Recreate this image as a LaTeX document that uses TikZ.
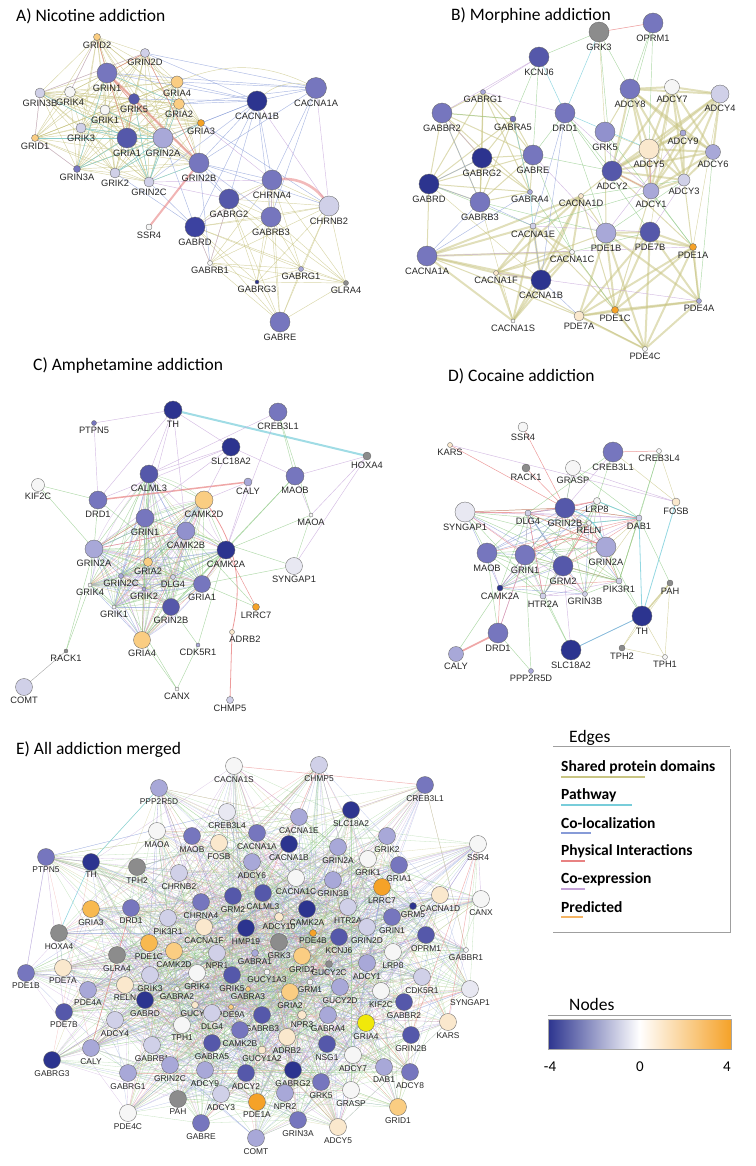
\documentclass[tikz,border=0pt]{standalone}
\usepackage{fontspec}
\setmainfont{Liberation Sans}
\newfontfamily\titlef{Carlito}
\definecolor{nb4}{RGB}{44,52,143}
\definecolor{nb35}{RGB}{60,66,160}
\definecolor{nb3}{RGB}{85,88,170}
\definecolor{nb2}{RGB}{118,118,190}
\definecolor{nb15}{RGB}{145,145,205}
\definecolor{nb1}{RGB}{168,168,216}
\definecolor{nb05}{RGB}{208,208,232}
\definecolor{nw2}{RGB}{232,232,242}
\definecolor{nw}{RGB}{246,246,246}
\definecolor{no1}{RGB}{250,232,205}
\definecolor{no2}{RGB}{250,205,130}
\definecolor{no25}{RGB}{248,185,80}
\definecolor{no3}{RGB}{245,162,40}
\definecolor{ngray}{RGB}{140,140,140}
\definecolor{nyel}{RGB}{240,232,10}
\definecolor{cspd}{RGB}{200,196,130}
\definecolor{cpw}{RGB}{120,205,218}
\definecolor{cco}{RGB}{135,155,215}
\definecolor{cph}{RGB}{232,130,130}
\definecolor{cex}{RGB}{195,160,215}
\definecolor{cpr}{RGB}{245,180,100}
\definecolor{cgi}{RGB}{140,200,130}
\pgfdeclarelayer{edgelayer}
\pgfsetlayers{edgelayer,main}
\begin{document}
\begin{tikzpicture}[x=1pt,y=-1pt,
  gn/.style={circle,draw=black!60,line width=0.35pt,inner sep=0pt},
  gl/.style={font=\fontsize{9.3}{10}\selectfont,inner sep=0.6pt,text=black!85},
  el/.style={font=\fontsize{8.4}{9}\selectfont,inner sep=0.5pt,text=black!85},
  ttl/.style={font=\fontsize{17.5}{19}\titlef,inner sep=0pt,anchor=west},
  kspd/.style={draw=cspd,line width=0.45pt,opacity=0.7},
  kspdm/.style={draw=cspd,line width=1pt,opacity=0.6},
  kspdT/.style={draw=cspd,line width=2pt,opacity=0.55},
  kpw/.style={draw=cpw,line width=0.5pt,opacity=0.8},
  kco/.style={draw=cco,line width=0.45pt,opacity=0.7},
  kph/.style={draw=cph,line width=0.5pt,opacity=0.8},
  kex/.style={draw=cex,line width=0.45pt,opacity=0.7},
  kgi/.style={draw=cgi,line width=0.45pt,opacity=0.7},
  er1/.style={draw=cgi,line width=0.3pt,opacity=0.5},
  er2/.style={draw=cgi,line width=0.3pt,opacity=0.5},
  er3/.style={draw=cgi,line width=0.3pt,opacity=0.5},
  er4/.style={draw=cgi,line width=0.3pt,opacity=0.5},
  er5/.style={draw=cex,line width=0.3pt,opacity=0.55},
  er6/.style={draw=cex,line width=0.3pt,opacity=0.55},
  er7/.style={draw=cco,line width=0.3pt,opacity=0.5},
  er8/.style={draw=cco,line width=0.3pt,opacity=0.5},
  er9/.style={draw=cspd,line width=0.3pt,opacity=0.55},
  er10/.style={draw=cph,line width=0.3pt,opacity=0.45},
  er11/.style={draw=none},
  er12/.style={draw=none},
  lgt/.style={font=\fontsize{15.5}{17}\titlef\bfseries,inner sep=0pt,anchor=west},
]
\useasboundingbox (0,0) rectangle (755,1166);

% ---------------- titles
\node[ttl] (tA) at (16,16) {A) Nicotine addiction};
\node[ttl] (tB) at (451,16) {B) Morphine addiction};
\node[ttl] (tC) at (33,366) {C) Amphetamine addiction};
\node[ttl] (tD) at (448,376) {D) Cocaine addiction};
\node[ttl] (tE) at (16,750) {E) All addiction merged};

% ---------------- A nodes
\foreach \t/\x/\y/\s/\c in {GRID2/97/37/7/no2, GRIN2D/145/53/9/nb05, GRIN1/107/73/20/nb2, GRIA4/177/82/12/no2,
 CACNA1B/257/101/20/nb4, CACNA1A/316/88/21/nb2, GRIN3B/40/93/10/nb05, GRIK4/70/92/11/nw, GRIK5/134/99/11/nb3,
 GRIA2/179/104/11/no2, GRIK1/105/110/10/nw, GRIA3/201/123/7/no3, GRIK3/81/128/10/nb05, GRID1/35/138/7/no2,
 GRIA1/127/138/20/nb3, GRIN2A/163/138/20/nb1, GRIN2B/199/163/20/nb2, GRIN3A/77/169/7/nb2, GRIK2/115/173/10/nb05,
 GRIN2C/149/182/10/nb05, CHRNA4/272/180/20/nb2, CHRNB2/329/206/20/nb05, GABRG2/229/199/20/nb3, GABRB3/271/217/20/nb2,
 SSR4/149/227/6/nw, GABRD/195/227/20/nb35, GABRB1/210/263/5/nw, GABRG1/301/269/5/nb1, GABRG3/257/282/4/nb4,
 GLRA4/346/283/5/ngray, GABRE/280/322/20/nb2}
 {\node[gn,minimum size=\s*1pt,fill=\c,label={[gl,label distance=1pt]below:\t}] (a-\t) at (\x,\y) {};}

% ---------------- B nodes
\foreach \t/\x/\y/\s/\c in {GRK3/599/32/20/ngray, OPRM1/653/23/20/nb2, KCNJ6/539/57/20/nb3, ADCY8/630/89/20/nb2,
 ADCY7/672/87/15/nw, ADCY4/720/94/18/nb05, GABRG1/483/92/5/nb1, GABBR2/442/113/20/nb2, GABRA5/513/119/6/nb2,
 DRD1/565/113/20/nb2, GRK5/605/132/20/nb15, ADCY9/683/133/6/nb1, ADCY5/649/149/20/no1, ADCY6/713/152/15/nb1,
 GABRG2/482/158/20/nb4, GABRE/533/155/20/nb2, ADCY2/612/171/20/nb3, ADCY3/684/180/12/nb05, ADCY1/651/191/16/nb1,
 GABRD/429/184/20/nb4, GABRB3/480/202/20/nb2, GABRA4/530/192/5/nb1, CACNA1D/581/196/5/no1, CACNA1E/533/226/6/nb05,
 PDE1B/606/233/20/nb1, PDE7B/650/232/20/nb3, PDE1A/693/247/7/no3, CACNA1C/572/252/5/nw, CACNA1A/427/256/20/nb2,
 CACNA1F/496/273/5/no1, CACNA1B/541/280/20/nb4, PDE4A/699/301/5/nb1, PDE1C/615/310/7/no3, PDE7A/579/316/10/no1,
 CACNA1S/513/321/4/nw, PDE4C/645/349/5/nw}
 {\node[gn,minimum size=\s*1pt,fill=\c,label={[gl,label distance=1pt]below:\t}] (b-\t) at (\x,\y) {};}

% ---------------- C nodes
\foreach \t/\x/\y/\s/\c in {TH/173/410/18/nb4, CREB3L1/278/412/18/nb2, PTPN5/94/423/5/nb2, SLC18A2/231/447/18/nb4,
 HOXA4/367/456/8/ngray, KIF2C/38/485/13/nw, CALML3/149/474/18/nb3, CALY/248/482/8/nb1, MAOB/295/476/18/nb2,
 DRD1/98/500/18/nb2, CAMK2D/204/500/18/no2, MAOA/311/515/4/nw, GRIN1/145/518/18/nb2, CAMK2B/186/531/18/nb15,
 CAMK2A/226/550/18/nb4, GRIN2A/94/549/18/nb1, SYNGAP1/294/566/17/nw2, GRIA2/148/562/9/no2, GRIN2C/121/576/5/nb1,
 DLG4/173/577/5/nb05, GRIA1/202/584/17/nb2, GRIK4/90/585/4/nw, GRIK2/144/589/4/nb1, GRIN2B/171/607/17/nb3,
 LRRC7/256/607/7/no3, GRIK1/114/607/4/nw, RACK1/66/651/4/ngray, GRIA4/142/640/17/no2, CDK5R1/198/645/4/nb1,
 CANX/177/689/4/nw, CHMP5/230/700/7/nb05, COMT/24/687/17/nb05}
 {\node[gn,minimum size=\s*1pt,fill=\c,label={[gl,label distance=1pt]below:\t}] (c-\t) at (\x,\y) {};}
\node[gn,minimum size=5pt,fill=no1,label={[gl,label distance=1pt,xshift=13pt]below:ADRB2}] (c-ADRB2) at (232,632) {};

% ---------------- D nodes
\foreach \t/\x/\y/\s/\c in {SSR4/523/427/10/nw, KARS/450/445/5/no1, CREB3L1/613/452/20/nb2, CREB3L4/659/451/5/nw,
 RACK1/526/468/8/ngray, GRASP/573/468/15/nw, SYNGAP1/465/512/20/nw2, DLG4/528/513/6/nb05, GRIN2B/565/508/20/nb3,
 LRP8/597/501/7/nw, RELN/589/523/5/nw, DAB1/639/518/6/nb05, FOSB/676/502/8/no1, MAOB/487/553/20/nb2,
 GRIN1/525/555/20/nb2, GRM2/563/566/20/nb3, GRIN2A/606/547/20/nb1, PIK3R1/619/581/6/nb05, PAH/670/583/6/ngray,
 CAMK2A/500/588/6/nb4, HTR2A/543/596/6/nb05, GRIN3B/585/594/5/nb05, TH/642/616/20/nb4, DRD1/498/633/20/nb2,
 CALY/456/654/15/nb1, SLC18A2/571/650/20/nb4, TPH2/622/648/6/ngray, TPH1/665/657/5/nw, PPP2R5D/531/671/5/nb1}
 {\node[gn,minimum size=\s*1pt,fill=\c,label={[gl,label distance=1pt]below:\t}] (d-\t) at (\x,\y) {};}

% ---------------- E nodes
\foreach \t/\x/\y/\s/\c [count=\i] in {CACNA1S/234/766/17/nw, CHMP5/319/765/17/nb05, PPP2R5D/159/788/17/nb1,
 CREB3L1/425/785/17/nb2, CREB3L4/227/812/17/nw2, SLC18A2/351/810/17/nb4, CACNA1E/299/817/17/nb1, MAOA/157/831/17/nw,
 MAOB/192/836/17/nb2, FOSB/219/843/17/no1, CACNA1A/257/833/17/nb2, CACNA1B/289/844/17/nb4, GRIN2A/338/847/17/nb1,
 GRIK2/387/836/17/nb1, SSR4/478/844/17/nw, PTPN5/46/857/17/nb2, TH/91/862/17/nb4, TPH2/137/867/17/ngray,
 CHRNB2/179/873/17/nb05, ADCY6/252/862/17/nb1, GRIK1/368/859/17/nw, GRIA1/399/865/17/nb2, CACNA1C/296/878/17/nw,
 GRIN3B/333/880/17/nb1, LRRC7/382/887/17/no3, CACNA1D/440/895/17/no1, CANX/481/899/17/nw, DRD1/131/908/17/nb2,
 GRIA3/91/909/17/no25, CHRNA4/201/902/17/nb2, GRM2/233/896/17/nb3, CALML3/263/893/17/nb3, CAMK2A/307/909/17/nb4,
 ADCY10/279/917/9/no1, HTR2A/348/907/17/nb05, GRM5/413/906/7/nb4, GRIN1/392/917/17/nb2, HOXA4/59/933/17/ngray,
 PIK3R1/168/918/17/nb05, CACNA1F/204/927/17/no1, HMP19/246/928/17/nb4, PDE4B/313/933/7/no3, KCNJ6/339/937/17/nb3,
 GRIN2D/367/927/17/nb05, OPRM1/426/935/17/nb3, GABBR1/466/950/5/nw, PDE1C/149/943/17/no25, CAMK2D/174/951/17/no2,
 GLRA4/117/955/17/ngray, NPR1/217/953/17/nb05, GABRA1/255/953/7/nb1, GRK3/279/942/17/ngray, GRID2/302/956/17/no2,
 GUCY2C/329/964/7/ngray, LRP8/393/952/17/nw, ADCY1/367/963/17/nb1, PDE1B/26/973/17/nb2, PDE7A/63/968/17/no1,
 GRIK3/150/975/17/nb05, GRIK4/197/973/17/nw, GABRA2/177/989/5/nw, GRIK5/232/975/17/nb3, GUCY1A3/267/972/6/nw,
 GABRA3/248/989/5/no2, GRM1/310/982/6/nw, GRIA2/290/992/17/no2, CDK5R1/422/977/17/nb05, GUCY2D/340/987/17/nb1,
 KIF2C/381/991/17/nw, SYNGAP1/470/989/17/nw2, PDE4A/88/990/17/nb1, RELN/125/985/17/no1, GABRD/145/1000/17/nb4,
 GUCY1/195/1005/7/no1, PDE9A/231/1007/5/no2, GABBR2/404/1002/17/nb3, PDE7B/64/1012/17/nb3, ADCY4/115/1020/17/nb05,
 TPH1/182/1025/17/nw, DLG4/212/1013/17/nb05, GABRB3/262/1015/17/nb3, NPR3/302/1015/9/no1, GABRA4/328/1015/17/nb1,
 GRIA4/366/1023/17/nyel, KARS/448/1022/17/no1, GRIN2B/411/1035/17/nb3, CAMK2B/240/1030/17/nb2, GABRA5/212/1043/17/nb3,
 GABRB1/152/1045/17/nb05, ADRB2/287/1037/17/no1, GUCY1A2/262/1050/8/no1, NSG1/327/1044/17/nb3, CALY/91/1048/17/nb1,
 GABRG3/52/1060/17/nb4, ADCY7/353/1055/17/nw, GRIN2C/170/1065/17/nb1, ADCY9/205/1070/17/nb1, ADCY2/246/1073/17/nb3,
 GABRG2/293/1070/17/nb4, DAB1/384/1067/17/nb1, ADCY8/410/1072/17/nb2, GABRG1/128/1073/17/nb1, GRK5/321/1082/17/nb2,
 NPR2/285/1093/17/nb1, GRASP/351/1090/17/nw, ADCY3/221/1094/17/nb05, PDE1A/257/1102/17/no3, PAH/178/1099/17/ngray,
 GRID1/398/1107/17/no2, PDE4C/128/1113/17/nw, GABRE/201/1123/17/nb2, GRIN3A/298/1120/17/nb2, ADCY5/338/1127/17/no1,
 COMT/256/1138/17/nb1}
 {\node[gn,minimum size=\s*1pt,fill=\c,alias=e-\t,label={[el,label distance=0.8pt]below:\t}] (e\i) at (\x,\y) {};
  \xdef\NE{\i}}

% ================= EDGES =================
\begin{pgfonlayer}{edgelayer}
% ---- A
\foreach \u [count=\i] in {GRID2,GRIN2D,GRIN1,GRIA4,GRIN3B,GRIK4,GRIK5,GRIA2,GRIK1,GRIA3,GRIK3,GRID1,GRIA1,GRIN2A,GRIN2B,GRIN3A,GRIK2,GRIN2C}
 {\foreach \v [count=\j] in {GRID2,GRIN2D,GRIN1,GRIA4,GRIN3B,GRIK4,GRIK5,GRIA2,GRIK1,GRIA3,GRIK3,GRID1,GRIA1,GRIN2A,GRIN2B,GRIN3A,GRIK2,GRIN2C}
  {\ifnum\j>\i \draw[kspd] (a-\u.center) -- (a-\v.center);\fi}}
\foreach \u [count=\i] in {GABRG2,GABRB3,GABRD,GABRB1,GABRG1,GABRG3,GLRA4,GABRE,CHRNA4,CHRNB2}
 {\foreach \v [count=\j] in {GABRG2,GABRB3,GABRD,GABRB1,GABRG1,GABRG3,GLRA4,GABRE,CHRNA4,CHRNB2}
  {\ifnum\j>\i \draw[kspd] (a-\u.center) -- (a-\v.center);\fi}}
\foreach \a/\b in {GRIA1/GRIK3,GRIA1/GRIN3A,GRIN2A/GRIK2,GRIN2A/GRIN3A,GRIN2A/GRIN2C,GRIN1/GRIA2,GRIA4/GRIN2A,GRIN2A/GRIK1,
 GRIN1/GRIN3A,GRIA2/GRIN2C,GRIK5/GRIN2C,GRIA1/GRIN2C,GRIN2B/GRIN2C,GRIK2/GRIA3,GRIK3/GRIN2A,GRIN3B/GRIA1,GRID1/GRIN2A}
 {\draw[kpw] (a-\a.center) -- (a-\b.center);}
\foreach \a/\b in {CACNA1B/GRIN2D,CACNA1B/GRIN1,CACNA1B/GRIA4,CACNA1B/GRIA2,CACNA1B/GRIA3,CACNA1B/GRIN2A,CACNA1B/GRIN2B,
 CACNA1B/GRIN2C,CACNA1B/GRIK5,CACNA1B/CHRNA4,CACNA1B/GABRG2,CACNA1B/GABRB3,CACNA1B/GABRD,CACNA1A/GRIA4,CACNA1A/GRIN2D,
 CACNA1A/CACNA1B,CACNA1A/GRIN2B,CACNA1A/GABRB3,CACNA1A/CHRNA4,GRIN2B/CHRNA4,GRIN2B/GABRB3,GRIN2B/GABRG2,GRIN2A/GABRD,
 GRIN2C/GABRD,GRIN2B/CHRNB2,GRIA3/CHRNB2,GRIK2/GABRD,GRIN2A/GABRG2,GRIN2B/GABRB1,GRIA2/CACNA1A,GRIN1/CACNA1A}
 {\draw[kco] (a-\a.center) -- (a-\b.center);}
\foreach \a/\b in {CACNA1A/CHRNB2,GRIN3B/GRID1,GRIN2D/GRIN3B,GRID2/GRIK4,GRIN3A/GRID1,CHRNA4/GABRB3,GABRD/GABRB1,
 CHRNA4/GABRD,GRIN2C/CHRNA4,CACNA1B/CHRNB2,GABRG2/GABRB1,GRIN2C/GABRG2,GRIA3/CHRNA4}
 {\draw[kex] (a-\a.center) -- (a-\b.center);}
\foreach \a/\b in {GRID2/GRIN1,GRIN1/GRIN2A,GRIN1/GRIA1,GRIN2D/GRIN1,GRIN2D/GRIN2B,GRIK5/GRIA1}
 {\draw[kph] (a-\a.center) -- (a-\b.center);}
\draw[kph,line width=2.5pt,opacity=0.55] (a-GRIN1.center) -- (a-GRIN2B.center);
\draw[kph,line width=2pt,opacity=0.6] (a-SSR4.center) -- (a-GRIN2B.center);
\draw[kph,line width=2.6pt,opacity=0.55] (a-CHRNA4.center) to[bend left=35] (a-CHRNB2.center);
\draw[kspd] (a-CACNA1B.center) to[bend left=35] (a-CACNA1A.center);
\draw[kspd] (a-GRIA4.center) to[bend left=25] (a-CACNA1A.center);

% ---- B
\foreach \u [count=\i] in {ADCY8,ADCY7,ADCY4,ADCY9,ADCY5,ADCY6,ADCY2,ADCY3,ADCY1}
 {\foreach \v [count=\j] in {ADCY8,ADCY7,ADCY4,ADCY9,ADCY5,ADCY6,ADCY2,ADCY3,ADCY1}
  {\ifnum\j>\i \draw[kspdT] (b-\u.center) -- (b-\v.center);\fi}}
\foreach \u [count=\i] in {PDE1B,PDE7B,PDE1A,PDE4A,PDE1C,PDE7A,PDE4C}
 {\foreach \v [count=\j] in {PDE1B,PDE7B,PDE1A,PDE4A,PDE1C,PDE7A,PDE4C}
  {\ifnum\j>\i \draw[kspdT] (b-\u.center) -- (b-\v.center);\fi}}
\foreach \u [count=\i] in {CACNA1D,CACNA1E,CACNA1C,CACNA1A,CACNA1F,CACNA1B,CACNA1S}
 {\foreach \v [count=\j] in {CACNA1D,CACNA1E,CACNA1C,CACNA1A,CACNA1F,CACNA1B,CACNA1S}
  {\ifnum\j>\i \draw[kspdT] (b-\u.center) -- (b-\v.center);\fi}}
\foreach \u [count=\i] in {GABRG1,GABRA5,GABRG2,GABRE,GABRD,GABRB3,GABRA4,GABBR2}
 {\foreach \v [count=\j] in {GABRG1,GABRA5,GABRG2,GABRE,GABRD,GABRB3,GABRA4,GABBR2}
  {\ifnum\j>\i \draw[kspdm] (b-\u.center) -- (b-\v.center);\fi}}
\foreach \a/\b in {CACNA1D/ADCY2,CACNA1D/PDE1B,CACNA1F/PDE1B,CACNA1E/PDE1C,CACNA1A/PDE7A,GRK5/ADCY8,GRK5/PDE1B,
 CACNA1D/PDE1C,CACNA1C/PDE4C,ADCY2/PDE1A,ADCY1/PDE1C,ADCY3/PDE4A,CACNA1F/PDE4C,GABRD/CACNA1A}
 {\draw[kspdm] (b-\a.center) -- (b-\b.center);}
\foreach \a/\b in {GRK3/GRK5,GABRD/CACNA1B,GABRB3/CACNA1S,GRK5/ADCY5,ADCY7/PDE7B,ADCY4/PDE1A}
 {\draw[kspd] (b-\a.center) -- (b-\b.center);}
\foreach \a/\b in {GRK3/DRD1,KCNJ6/DRD1,GABRA5/GABRA4,GABRA4/CACNA1E,DRD1/ADCY5}
 {\draw[kpw] (b-\a.center) -- (b-\b.center);}
\foreach \a/\b in {GRK3/OPRM1,ADCY2/ADCY1,ADCY5/ADCY1}
 {\draw[kph] (b-\a.center) -- (b-\b.center);}
\foreach \a/\b in {GRK3/KCNJ6,GRK3/ADCY8,OPRM1/ADCY5,OPRM1/ADCY2,KCNJ6/GABRA5,GABBR2/GABRA5,DRD1/PDE1B,DRD1/GABRE,
 GABRE/ADCY2,ADCY1/PDE1A,PDE1B/ADCY3,GRK5/PDE1A,GABRD/CACNA1E,CACNA1C/PDE7B,ADCY6/PDE4A,GABRA4/PDE1C,DRD1/ADCY2,
 GABRE/CACNA1C,OPRM1/ADCY8,KCNJ6/GABRE,CACNA1E/ADCY1,GRK3/ADCY2,DRD1/PDE7B,CACNA1D/ADCY3,GABRB3/PDE1B}
 {\draw[kgi] (b-\a.center) -- (b-\b.center);}
\foreach \a/\b in {KCNJ6/GABRG1,DRD1/ADCY1,GABBR2/GABRG2,CACNA1A/PDE1A,GABRE/PDE1B,ADCY3/PDE7B,CACNA1F/PDE4A,
 GABRG1/DRD1,KCNJ6/GABBR2,CACNA1E/PDE7B,PDE1B/ADCY9}
 {\draw[kex] (b-\a.center) -- (b-\b.center);}
\foreach \a/\b in {GABRD/GABRB3,GABRD/GABRG2,CACNA1A/GABRB3,DRD1/CACNA1B,CACNA1E/CACNA1B,GABBR2/GABRB3,GABRB3/CACNA1E,
 CACNA1B/PDE7A,CACNA1A/GABRA4,DRD1/CACNA1E}
 {\draw[kco] (b-\a.center) -- (b-\b.center);}

% ---- C
\pgfmathsetseed{11}
\foreach \u [count=\i] in {GRIN1,CAMK2B,CAMK2A,GRIN2A,GRIA2,GRIN2C,DLG4,GRIA1,GRIK4,GRIK2,GRIN2B,GRIK1,CALML3,CAMK2D,GRIA4}
 {\foreach \v [count=\j] in {GRIN1,CAMK2B,CAMK2A,GRIN2A,GRIA2,GRIN2C,DLG4,GRIA1,GRIK4,GRIK2,GRIN2B,GRIK1,CALML3,CAMK2D,GRIA4}
  {\ifnum\j>\i \pgfmathrandominteger{\rc}{1}{10}\draw[er\rc,opacity=0.65,line width=0.45pt] (c-\u.center) -- (c-\v.center);
   \pgfmathrandominteger{\rc}{1}{10}\draw[er\rc,opacity=0.55,line width=0.4pt] (c-\u.center) to[bend left=12] (c-\v.center);\fi}}
\draw[kpw,line width=2pt,opacity=0.7] (c-TH.center) -- (c-HOXA4.center);
\draw[kph,line width=1.5pt,opacity=0.7] (c-DRD1.center) -- (c-CALY.center);
\draw[kph,line width=0.8pt] (c-CAMK2D.center) to[bend left=25] (c-ADRB2.center);
\draw[kph,line width=0.8pt] (c-ADRB2.center) -- (c-CHMP5.center);
\foreach \a/\b in {CAMK2A/LRRC7,GRIN2A/CAMK2B,GRIN2A/GRIN1,CAMK2A/GRIA1}
 {\draw[kph] (c-\a.center) -- (c-\b.center);}
\foreach \a/\b in {PTPN5/TH,PTPN5/DRD1,TH/DRD1,TH/CALML3,TH/GRIN1,TH/SLC18A2,SLC18A2/CALML3,SLC18A2/GRIN2A,SLC18A2/MAOB,
 SLC18A2/CAMK2D,CREB3L1/CALML3,CREB3L1/CAMK2A,HOXA4/MAOA,HOXA4/SYNGAP1,HOXA4/MAOB,CALY/CAMK2D,CALY/CAMK2A,MAOB/MAOA,
 TH/CAMK2B,SLC18A2/DRD1}
 {\draw[kex] (c-\a.center) -- (c-\b.center);}
\foreach \a/\b in {CREB3L1/MAOB,CREB3L1/MAOA,KIF2C/DRD1,KIF2C/GRIN2A,RACK1/GRIN2A,RACK1/GRIK4,GRIA4/CANX,CDK5R1/CANX,
 CDK5R1/CAMK2A,MAOA/SYNGAP1,MAOA/CAMK2A,SYNGAP1/GRIA1,SYNGAP1/CAMK2B,LRRC7/GRIA1,LRRC7/CAMK2B,CALML3/GRIN1,DRD1/GRIN2A,
 MAOB/CAMK2A,GRIA4/GRIN2B,CDK5R1/GRIN2B,CANX/GRIN2A,MAOB/GRIN2B,DRD1/GRIA1,CAMK2D/GRIN2A}
 {\draw[kgi] (c-\a.center) -- (c-\b.center);}
\draw[draw=black!35,line width=0.4pt] (c-RACK1.center) -- (c-COMT.center);

% ---- D
\pgfmathsetseed{5}
\foreach \u [count=\i] in {GRIN2B,DLG4,LRP8,RELN,GRIN2A,GRIN1,GRM2,DAB1,HTR2A,GRIN3B,CAMK2A,PIK3R1,MAOB,SYNGAP1}
 {\foreach \v [count=\j] in {GRIN2B,DLG4,LRP8,RELN,GRIN2A,GRIN1,GRM2,DAB1,HTR2A,GRIN3B,CAMK2A,PIK3R1,MAOB,SYNGAP1}
  {\ifnum\j>\i \pgfmathrandominteger{\rc}{1}{12}\draw[er\rc,opacity=0.7,line width=0.45pt] (d-\u.center) -- (d-\v.center);\fi}}
\foreach \a/\b in {KARS/GRIN2B,SSR4/GRIN2B,RACK1/GRIN2B,SYNGAP1/GRIN2B,CREB3L1/CREB3L4,DLG4/GRIN2A,GRIN2B/DAB1,
 SYNGAP1/DLG4,DLG4/HTR2A,CAMK2A/DRD1,GRIN2B/LRP8,GRIN1/DRD1}
 {\draw[kph] (d-\a.center) -- (d-\b.center);}
\draw[kph,line width=1.6pt,opacity=0.7] (d-CALY.center) -- (d-DRD1.center);
\draw[kph,line width=0.8pt] (d-GRIN1.center) to[bend left=30] (d-GRIN2A.center);
\draw[kpw,line width=1pt] (d-GRIN2B.center) to[bend left=30] (d-GRIN2A.center);
\foreach \a/\b in {KARS/FOSB,GRASP/FOSB,GRIN2B/GRASP,DLG4/GRIN1,DRD1/GRIN1,SLC18A2/GRM2,CREB3L1/GRIN2B}
 {\draw[kex] (d-\a.center) -- (d-\b.center);}
\foreach \a/\b in {GRASP/GRIN2B,CREB3L1/DLG4,CREB3L1/LRP8,CREB3L4/DAB1,CREB3L4/PIK3R1,DAB1/PAH,PIK3R1/GRIN2A,
 MAOB/DRD1,DRD1/PPP2R5D,SLC18A2/GRIN1,TH/PIK3R1,GRM2/PIK3R1,CAMK2A/HTR2A,PPP2R5D/GRIN1,SLC18A2/HTR2A,TH/GRIN2A,
 CALY/CAMK2A,GRASP/DAB1,DAB1/PIK3R1}
 {\draw[kgi] (d-\a.center) -- (d-\b.center);}
\foreach \a/\b in {FOSB/TH,LRP8/DAB1,RELN/DAB1,TH/SLC18A2,DAB1/TH}
 {\draw[kpw,line width=0.8pt] (d-\a.center) -- (d-\b.center);}
\foreach \a/\b in {CREB3L4/FOSB,CREB3L1/FOSB,TH/TPH2,TH/TPH1,PAH/TPH1,TPH2/TPH1,PAH/TPH2}
 {\draw[kspd] (d-\a.center) -- (d-\b.center);}
\draw[kspd,line width=1.5pt] (d-TH.center) -- (d-PAH.center);
\foreach \a/\b in {DLG4/GRIN2B,DLG4/GRM2,GRIN1/GRIN2B,CAMK2A/GRIN1,HTR2A/GRM2,SLC18A2/TH}
 {\draw[kco] (d-\a.center) -- (d-\b.center);}

% ---- E
\pgfmathsetseed{42}
\foreach \i in {1,...,\NE}
 {\foreach \k in {1,...,13}
  {\pgfmathrandominteger{\rj}{1}{\NE}\pgfmathrandominteger{\rc}{1}{10}
   \draw[er\rc] (e\i.center) -- (e\rj.center);}}
\draw[kph,line width=0.6pt] (e-DRD1.center) -- (e-CALY.center);
\draw[kpw,line width=0.6pt] (e-TH.center) -- (e-HOXA4.center);
\draw[kpw,line width=0.5pt] (e-TH.center) -- (e-PPP2R5D.center);
\foreach \a/\b in {PTPN5/PDE1B,PTPN5/TH,PTPN5/PDE7B,CACNA1S/CACNA1E,CACNA1S/CACNA1A,CHMP5/CACNA1E,CREB3L1/GRIK2,
 CREB3L1/SLC18A2,SSR4/GRIA1,SSR4/CANX}
 {\draw[kex,opacity=0.6] (e-\a.center) -- (e-\b.center);}
\foreach \a/\b in {CHMP5/CALML3,SSR4/GRIN2B,CACNA1S/CREB3L1,SSR4/KARS}
 {\draw[kph,opacity=0.6] (e-\a.center) -- (e-\b.center);}
\end{pgfonlayer}

% ================= LEGEND: edges
\node[ttl] (edgest) at (569,738) {Edges};
\draw[gray!75,line width=0.7pt,double=white,double distance=0.9pt] (553,747) -- (730,747);
\draw[gray!75,line width=0.6pt] (730,749) -- (730,932) -- (553,932);
\node[lgt] (lg1) at (561,767) {Shared protein domains};
\node[lgt] (lg2) at (561,795) {Pathway};
\node[lgt] (lg3) at (561,823) {Co-localization};
\node[lgt] (lg4) at (561,851) {Physical Interactions};
\node[lgt] (lg5) at (561,879) {Co-expression};
\node[lgt] (lg6) at (561,907) {Predicted};
\draw[cspd,line width=2.6pt] (561,777) -- (645,777);
\draw[cpw,line width=2.6pt] (561,805) -- (632,805);
\draw[cco,line width=2.6pt] (561,833) -- (591,833);
\draw[cph,line width=2.6pt] (561,861) -- (585,861);
\draw[cex,line width=2.6pt] (561,889) -- (585,889);
\draw[cpr,line width=2.6pt] (561,917) -- (583,917);

% ================= LEGEND: nodes
\node[ttl] (nodest) at (569,1004) {Nodes};
\draw[gray!75,line width=0.7pt,double=white,double distance=0.9pt] (548,1016) -- (731,1016);
\shade[left color=nb4,right color=no3,middle color=white] (548,1019) rectangle (731,1049);
\draw[gray!70,line width=0.5pt] (548,1019) rectangle (731,1049);
\node[font=\fontsize{15}{16}\titlef,inner sep=0pt] (tk1) at (550,1067) {-4};
\node[font=\fontsize{15}{16}\titlef,inner sep=0pt] (tk2) at (640,1067) {0};
\node[font=\fontsize{15}{16}\titlef,inner sep=0pt] (tk3) at (727,1067) {4};
\end{tikzpicture}
\end{document}
